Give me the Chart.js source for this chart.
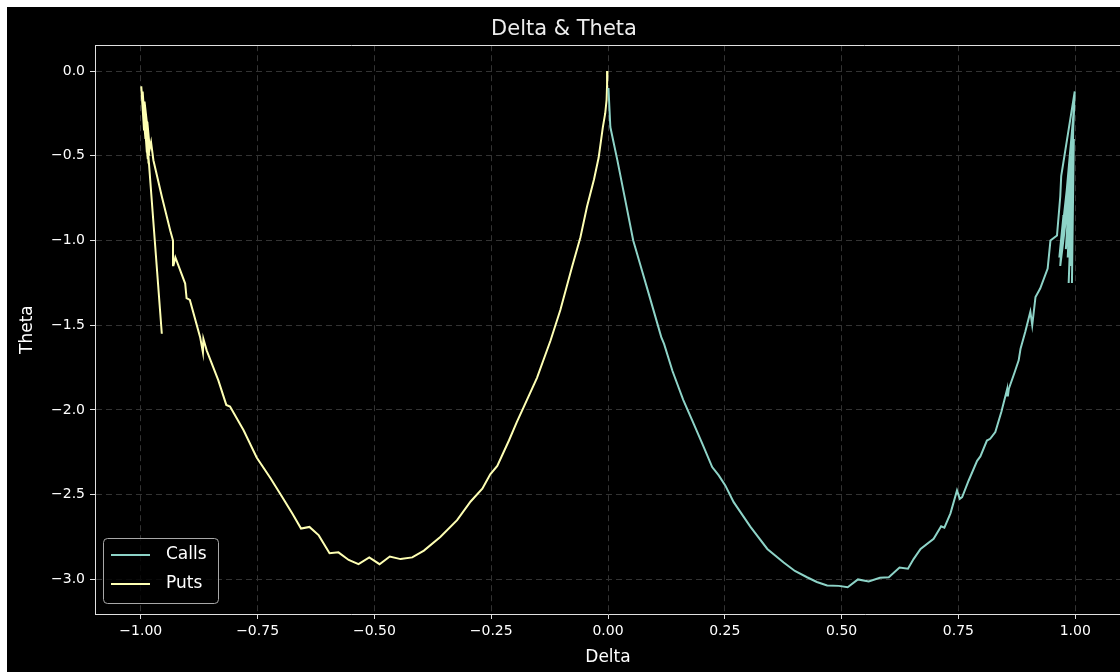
<!DOCTYPE html>
<html>
<head>
<meta charset="utf-8">
<script src="https://cdn.jsdelivr.net/npm/chart.js@4.4.0/dist/chart.umd.min.js"></script>
<style>
  html, body { margin: 0; padding: 0; background: #fff; overflow: hidden; }
  #wrap { position: absolute; left: 7px; top: 7px; width: 1120px; height: 665px; background: #000; }
</style>
</head>
<body>
<div id="wrap"><canvas id="myChart" width="1120" height="665"></canvas></div>
<script>
// calls: from deep ITM (delta ~1, noisy) down to delta ~0
const callsDelta = [0.993, 0.997, 0.986, 0.995, 0.990, 0.996, 0.984, 0.994, 0.980, 0.992,
  0.976, 0.990, 0.968, 0.975, 0.966, 0.982, 0.998, 0.988, 0.999, 0.970,
  0.968, 0.961, 0.947, 0.941, 0.925, 0.915, 0.908, 0.904, 0.893, 0.883,
  0.879, 0.870, 0.858, 0.856, 0.854, 0.842, 0.829, 0.818, 0.811, 0.797,
  0.790, 0.772, 0.758, 0.753, 0.747, 0.733, 0.720, 0.713, 0.697, 0.669,
  0.654, 0.642, 0.624, 0.601, 0.582, 0.558, 0.535, 0.513, 0.494, 0.469,
  0.447, 0.426, 0.400, 0.376, 0.341, 0.305, 0.269, 0.251, 0.237, 0.223,
  0.202, 0.180, 0.161, 0.138, 0.120, 0.114, 0.091, 0.073, 0.054, 0.034,
  0.020, 0.005, 0.001];
const callsTheta = [-1.25, -0.40, -1.25, -0.55, -1.15, -0.30, -1.10, -0.70, -1.05, -0.50,
  -0.95, -0.65, -1.15, -0.85, -1.10, -0.70, -0.20, -0.80, -0.12, -0.62,
  -0.74, -0.97, -1.00, -1.165, -1.283, -1.333, -1.50, -1.42, -1.54, -1.638,
  -1.707, -1.78, -1.874, -1.914, -1.88, -2.01, -2.13, -2.17, -2.18, -2.274,
  -2.30, -2.416, -2.514, -2.524, -2.475, -2.61, -2.695, -2.686, -2.76, -2.82,
  -2.88, -2.937, -2.93, -2.987, -2.99, -3.012, -3.0, -3.046, -3.038, -3.036,
  -3.015, -2.987, -2.95, -2.90, -2.82, -2.69, -2.544, -2.445, -2.386, -2.337,
  -2.20, -2.06, -1.94, -1.77, -1.61, -1.57, -1.35, -1.18, -1.00, -0.72,
  -0.525, -0.33, -0.10];

// puts: from delta ~0 out to deep ITM (delta ~-1, noisy)
const putsDelta = [-0.001, -0.002, -0.003, -0.006, -0.011, -0.020, -0.030, -0.045, -0.059, -0.077,
  -0.102, -0.123, -0.152, -0.180, -0.195, -0.212, -0.237, -0.252, -0.269, -0.294,
  -0.323, -0.359, -0.394, -0.419, -0.444, -0.467, -0.489, -0.511, -0.534, -0.555,
  -0.577, -0.596, -0.619, -0.639, -0.657, -0.676, -0.698, -0.723, -0.752, -0.780,
  -0.809, -0.817, -0.834, -0.859, -0.866, -0.867, -0.873, -0.895, -0.902, -0.905,
  -0.926, -0.930, -0.931, -0.937, -0.955, -0.973, -0.978, -0.984, -0.986, -0.981,
  -0.992, -0.987, -0.996, -0.990, -0.999, -0.993, -0.997, -0.985, -0.991, -0.982,
  -0.988, -0.984, -0.955];
const putsTheta = [0.00, -0.08, -0.17, -0.25, -0.33, -0.51, -0.64, -0.80, -0.98, -1.156,
  -1.41, -1.59, -1.81, -1.98, -2.07, -2.18, -2.33, -2.38, -2.465, -2.54,
  -2.65, -2.75, -2.83, -2.87, -2.88, -2.865, -2.91, -2.87, -2.91, -2.885,
  -2.84, -2.845, -2.74, -2.69, -2.70, -2.61, -2.51, -2.40, -2.28, -2.12,
  -1.98, -1.97, -1.825, -1.648, -1.58, -1.66, -1.57, -1.35, -1.34, -1.254,
  -1.10, -1.146, -1.00, -0.94, -0.74, -0.526, -0.42, -0.50, -0.30, -0.45,
  -0.18, -0.48, -0.12, -0.40, -0.09, -0.35, -0.15, -0.52, -0.28, -0.50,
  -0.42, -0.49, -1.55];

const xTicks = [-1, -0.75, -0.5, -0.25, 0, 0.25, 0.5, 0.75, 1];
const xTickLabels = ["\u22121.00", "\u22120.75", "\u22120.50", "\u22120.25", "0.00", "0.25", "0.50", "0.75", "1.00"];
const yTicks = [-3, -2.5, -2, -1.5, -1, -0.5, 0];
const yTickLabels = ["\u22123.0", "\u22122.5", "\u22122.0", "\u22121.5", "\u22121.0", "\u22120.5", "0.0"];

const FONT = "'DejaVu Sans', sans-serif";
const gridStyle = {
  color: "#333333",
  lineWidth: 1,
  tickLength: 5,
  tickColor: "#e0e0e0",
  tickWidth: 1,
  tickBorderDash: []
};

// top spine + legend box in the lower left of the plot
const extras = {
  id: "extras",
  afterDraw(chart) {
    const c = chart.ctx;
    const a = chart.chartArea;
    c.save();
    c.strokeStyle = "#e0e0e0";
    c.lineWidth = 1;
    c.beginPath();
    c.moveTo(a.left, Math.round(a.top) + 0.5);
    c.lineTo(a.right, Math.round(a.top) + 0.5);
    c.stroke();

    const bx = a.left + 8, by = a.bottom - 76, bw = 115, bh = 65;
    c.beginPath();
    c.roundRect(bx + 0.5, by + 0.5, bw, bh, 4);
    c.fillStyle = "rgba(0,0,0,0.8)";
    c.fill();
    c.strokeStyle = "#a8a8a8";
    c.stroke();

    c.font = "17px " + FONT;
    c.textBaseline = "middle";
    chart.data.datasets.forEach((ds, i) => {
      const y = by + 17 + i * 29;
      c.strokeStyle = ds.borderColor;
      c.lineWidth = 2;
      c.beginPath();
      c.moveTo(bx + 8, y);
      c.lineTo(bx + 47, y);
      c.stroke();
      c.fillStyle = "#ffffff";
      c.fillText(ds.label, bx + 63, y);
    });
    c.restore();
  }
};

const ctx = document.getElementById("myChart").getContext("2d");
const myChart = new Chart(ctx, {
  type: "line",
  data: {
    datasets: [
      {
        label: "Calls",
        data: callsDelta.map((d, i) => ({ x: d, y: callsTheta[i] })),
        borderColor: "#8dd3c7",
        borderWidth: 2,
        pointRadius: 0,
        tension: 0
      },
      {
        label: "Puts",
        data: putsDelta.map((d, i) => ({ x: d, y: putsTheta[i] })),
        borderColor: "#feffb3",
        borderWidth: 2,
        pointRadius: 0,
        tension: 0
      }
    ]
  },
  options: {
    responsive: false,
    animation: false,
    devicePixelRatio: 1,
    layout: { padding: { left: 0, right: 6, top: 0, bottom: 0 } },
    plugins: {
      legend: { display: false },
      tooltip: { enabled: false },
      title: {
        display: true,
        text: "Delta & Theta",
        color: "#eeeeee",
        font: { family: FONT, size: 21, weight: "normal" },
        padding: { top: 10, bottom: 3 }
      }
    },
    scales: {
      x: {
        type: "linear",
        min: -1.098,
        max: 1.098,
        afterBuildTicks: (axis) => { axis.ticks = xTicks.map((v) => ({ value: v })); },
        afterFit: (axis) => { axis.height = 58; },
        ticks: {
          color: "#ffffff",
          font: { family: FONT, size: 14 },
          padding: 4,
          maxRotation: 0,
          callback: (v, i) => xTickLabels[i]
        },
        grid: Object.assign({ borderDash: [6, 4] }, gridStyle),
        border: { display: true, color: "#e0e0e0", width: 1, dash: [6, 4] },
        title: {
          display: true,
          text: "Delta",
          color: "#ffffff",
          font: { family: FONT, size: 17 },
          padding: { top: 0, bottom: 4 }
        }
      },
      y: {
        type: "linear",
        min: -3.204,
        max: 0.153,
        afterBuildTicks: (axis) => { axis.ticks = yTicks.map((v) => ({ value: v })); },
        afterFit: (axis) => { axis.width = 88; },
        ticks: {
          color: "#ffffff",
          font: { family: FONT, size: 14 },
          padding: 5,
          callback: (v, i) => yTickLabels[i]
        },
        grid: gridStyle,
        border: { display: true, color: "#e0e0e0", width: 1, dash: [6, 4] },
        title: {
          display: true,
          text: "Theta",
          color: "#ffffff",
          font: { family: FONT, size: 17 },
          padding: { top: 10, bottom: 0 }
        }
      }
    }
  },
  plugins: [extras]
});
</script>
</body>
</html>
